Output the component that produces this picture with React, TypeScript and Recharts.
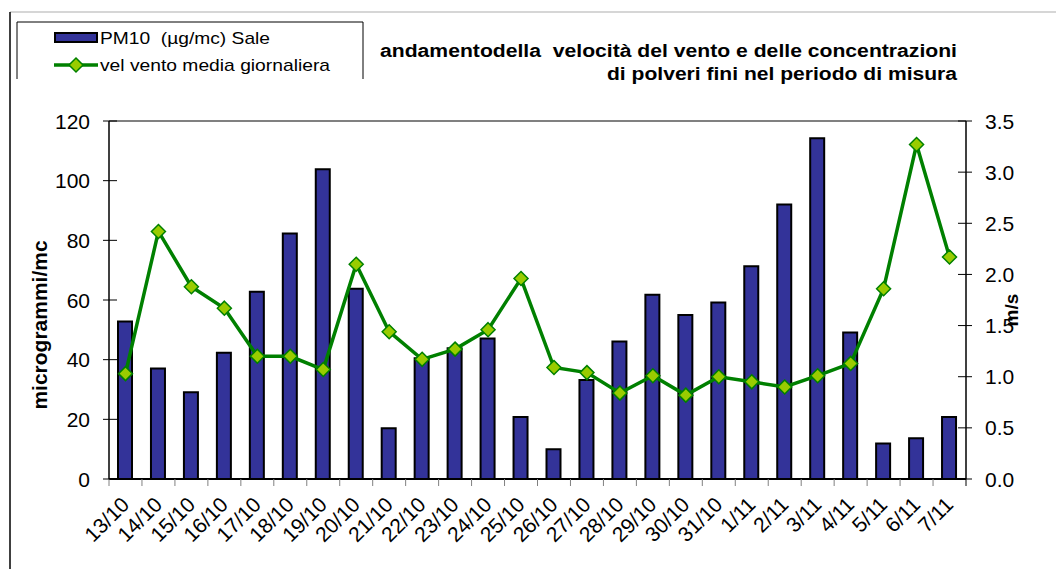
import React from 'react';
import { ComposedChart, Bar, Line, XAxis, YAxis, ReferenceLine } from 'recharts';

const WIDTH = 1056;
const HEIGHT = 569;
const MARGIN = { top: 121, right: 30, bottom: 30, left: 49 };
const Y_AXIS_W = 60;
const X_AXIS_H = 60;
const PLOT_W = WIDTH - MARGIN.left - MARGIN.right - 2 * Y_AXIS_W;

const dates = [
  '13/10', '14/10', '15/10', '16/10', '17/10', '18/10', '19/10', '20/10', '21/10',
  '22/10', '23/10', '24/10', '25/10', '26/10', '27/10', '28/10', '29/10', '30/10',
  '31/10', '1/11', '2/11', '3/11', '4/11', '5/11', '6/11', '7/11'
];
const pm10 = [
  52.8, 37, 29.1, 42.3, 62.8, 82.3, 103.8, 63.8, 17,
  40.5, 43.8, 47.1, 20.8, 10, 33.2, 46.1, 61.8, 55,
  59.2, 71.3, 92, 114.2, 49.1, 11.9, 13.7, 20.8
];
const wind = [
  1.03, 2.42, 1.88, 1.67, 1.2, 1.2, 1.07, 2.1, 1.44,
  1.17, 1.27, 1.46, 1.96, 1.09, 1.04, 0.84, 1.01, 0.82,
  1.0, 0.95, 0.9, 1.01, 1.13, 1.86, 3.27, 2.17
];
const leftTicks = [0, 20, 40, 60, 80, 100, 120];
const rightTicks = [0, 0.5, 1, 1.5, 2, 2.5, 3, 3.5];

const data = dates.map((d, i) => ({ date: d, pm10: pm10[i], wind: wind[i] }));

const FONT = '"Liberation Sans", Arial, sans-serif';
const BAND = PLOT_W / dates.length;
const BAR_COLOR = '#333399';
const LINE_COLOR = '#008000';
const DOT_COLOR = '#99cc00';
const PRE = { whiteSpace: 'pre' as const };

function XTick(props: any) {
  const { x, y, payload, index } = props;
  const lx = x - BAND / 2;
  const tx = x + 5;
  const ty = y + 27;
  return (
    <g>
      <line x1={lx} y1={y} x2={lx} y2={y + 7} stroke="#808080" />
      {index === dates.length - 1 && <line x1={x + BAND / 2} y1={y} x2={x + BAND / 2} y2={y + 7} stroke="#000" />}
      <text x={tx} y={ty} textAnchor="end" transform={`rotate(-45 ${tx} ${ty})`} fontSize={21} fontFamily={FONT} fill="#000">
        {payload.value}
      </text>
    </g>
  );
}

function LeftTick(props: any) {
  const { x, y, payload } = props;
  return (
    <g>
      <line x1={x - 6} y1={y} x2={x + 8} y2={y} stroke="#000" />
      <text x={x - 19} y={y + 7.5} textAnchor="end" fontSize={21} fontFamily={FONT} fill="#000">
        {payload.value}
      </text>
    </g>
  );
}

function RightTick(props: any) {
  const { x, y, payload } = props;
  return (
    <g>
      <line x1={x - 8} y1={y} x2={x + 6} y2={y} stroke="#000" />
      <text x={x + 19} y={y + 7.5} textAnchor="start" fontSize={21} fontFamily={FONT} fill="#000">
        {Number(payload.value).toFixed(1)}
      </text>
    </g>
  );
}

function Diamond(props: any) {
  const { cx, cy } = props;
  if (cx == null || cy == null) return null;
  const r = 7;
  return (
    <polygon
      points={`${cx},${cy - r} ${cx + r},${cy} ${cx},${cy + r} ${cx - r},${cy}`}
      fill={DOT_COLOR}
      stroke={LINE_COLOR}
      strokeWidth={1.5}
    />
  );
}

export default function App() {
  return (
    <div style={{ position: 'absolute', left: 0, top: 0, width: WIDTH, height: HEIGHT, background: '#fff' }}>
      <ComposedChart width={WIDTH} height={HEIGHT} data={data} margin={MARGIN}>
        {/* frame */}
        <line x1={10} y1={12} x2={WIDTH} y2={12} stroke="#c8c8c8" strokeWidth={1.5} />
        <line x1={10} y1={12} x2={10} y2={HEIGHT} stroke="#000" strokeWidth={1.5} />

        {/* legend */}
        <path d="M17,79 L17,22 L363,22 L363,79" fill="none" stroke="#000" strokeWidth={1} />
        <rect x={55} y={33} width={42} height={9} fill={BAR_COLOR} stroke="#000" strokeWidth={2} />
        <text x={100} y={44} fontSize={17} fontFamily={FONT} style={PRE} textLength={170} lengthAdjust="spacingAndGlyphs">
          {'PM10  (µg/mc) Sale'}
        </text>
        <line x1={54} y1={65} x2={98} y2={65} stroke={LINE_COLOR} strokeWidth={3.5} />
        <Diamond cx={76} cy={65} />
        <text x={100} y={71} fontSize={17} fontFamily={FONT} style={PRE} textLength={230} lengthAdjust="spacingAndGlyphs">
          vel vento media giornaliera
        </text>

        {/* title */}
        <text x={957} y={57} textAnchor="end" fontSize={18} fontWeight="bold" fontFamily={FONT} style={PRE} textLength={577} lengthAdjust="spacingAndGlyphs">
          {'andamentodella  velocità del vento e delle concentrazioni'}
        </text>
        <text x={957} y={80} textAnchor="end" fontSize={18} fontWeight="bold" fontFamily={FONT} textLength={350} lengthAdjust="spacingAndGlyphs">
          di polveri fini nel periodo di misura
        </text>

        {/* axis titles */}
        <text x={47} y={325} textAnchor="middle" transform="rotate(-90 47 325)" fontSize={21} fontWeight="bold" fontFamily={FONT}>
          microgrammi/mc
        </text>
        <text x={1018} y={310} textAnchor="middle" transform="rotate(-90 1018 310)" fontSize={19} fontWeight="bold" fontFamily={FONT}>
          m/s
        </text>

        <XAxis
          dataKey="date"
          interval={0}
          height={X_AXIS_H}
          tickSize={0}
          tickMargin={0}
          tickLine={false}
          axisLine={{ stroke: '#000', strokeWidth: 2 }}
          tick={<XTick />}
        />
        <YAxis
          yAxisId="left"
          orientation="left"
          width={Y_AXIS_W}
          domain={[0, 120]}
          ticks={leftTicks}
          tickSize={0}
          tickMargin={0}
          tickLine={false}
          axisLine={{ stroke: '#000', strokeWidth: 1.5 }}
          tick={<LeftTick />}
        />
        <YAxis
          yAxisId="right"
          orientation="right"
          width={Y_AXIS_W}
          domain={[0, 3.5]}
          ticks={rightTicks}
          tickSize={0}
          tickMargin={0}
          tickLine={false}
          axisLine={{ stroke: '#000', strokeWidth: 1.5 }}
          tick={<RightTick />}
        />
        <ReferenceLine yAxisId="left" y={120} stroke="#808080" strokeWidth={2} />
        <Bar yAxisId="left" dataKey="pm10" fill={BAR_COLOR} stroke="#000" strokeWidth={2} barSize={14} isAnimationActive={false} />
        <Line
          yAxisId="right"
          type="linear"
          dataKey="wind"
          stroke={LINE_COLOR}
          strokeWidth={3.5}
          dot={<Diamond />}
          activeDot={false}
          isAnimationActive={false}
        />
      </ComposedChart>
    </div>
  );
}
